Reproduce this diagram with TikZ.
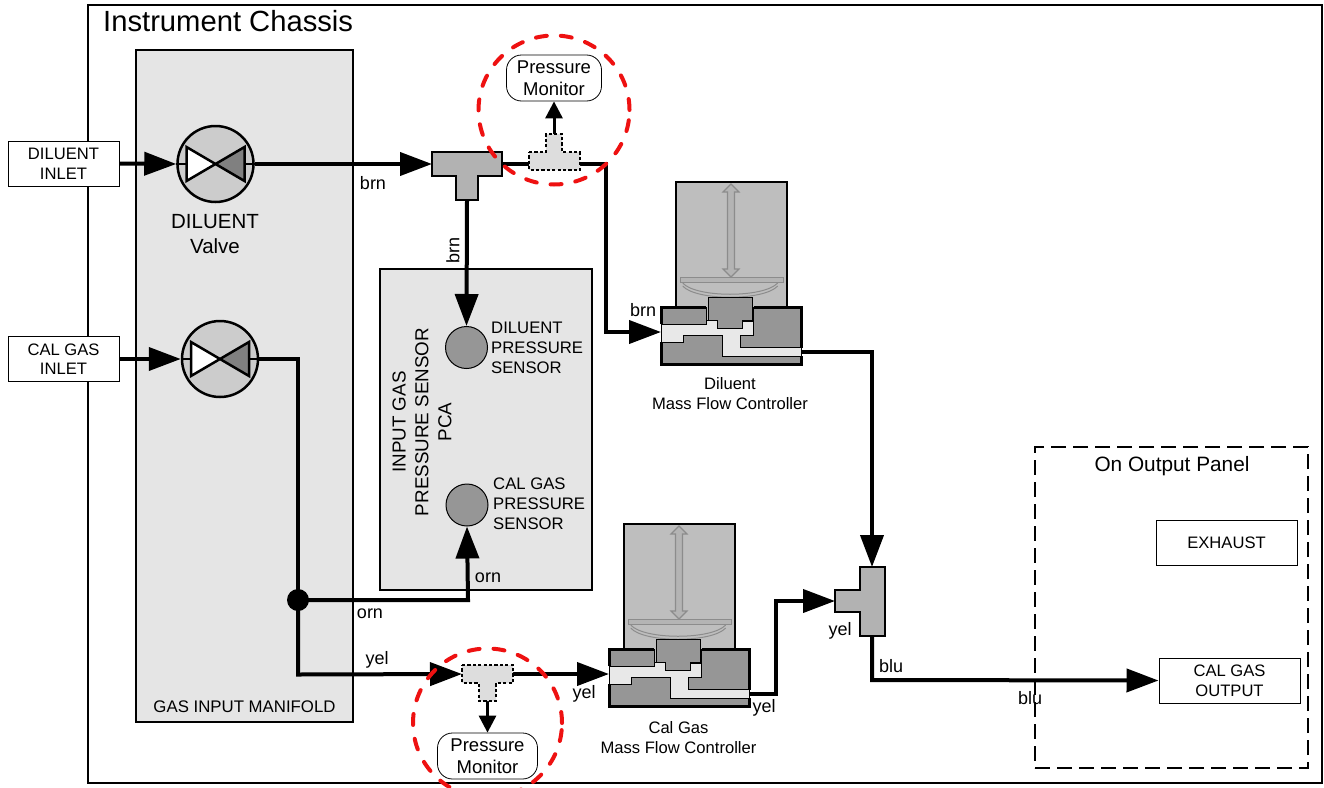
\documentclass[tikz,border=0pt]{standalone}
\usepackage{fontspec}
\setmainfont{Liberation Sans}
\usetikzlibrary{arrows.meta,shapes.geometric,calc}
\newcommand{\fs}[1]{\fontsize{#1}{#1}\selectfont}
\tikzset{
  panelbox/.style={draw=black,fill=panelgray,line width=2.2pt,minimum width=#1,inner sep=0pt},
  iobox/.style={draw=black,fill=white,line width=1pt,inner sep=0pt,align=center,font=\fs{16.6}},
  valvebody/.style={ellipse,draw=black,fill=valvegray,line width=2.5pt,minimum width=76pt,minimum height=76pt,inner sep=0pt},
  sensorbody/.style={circle,draw=black,fill=sensgray,line width=1pt,minimum size=42pt,inner sep=0pt},
  pipe/.style={line width=4pt,line join=miter},
  flowline/.style={pipe,-{Triangle[length=32pt,width=23pt]},shorten >=0pt},
  smallflow/.style={line width=3pt,-{Triangle[length=17pt,width=17pt]}},
  fitting/.style={draw=black,fill=fitgray,line width=2.4pt},
  dfitting/.style={draw=black,fill=dfitgray,line width=1.8pt,dash pattern=on 3.2pt off 2.2pt},
  monitorbox/.style={draw=black,fill=white,line width=.8pt,rounded corners=15pt,align=center,font=\fs{18.5},inner sep=0pt,minimum height=46pt,text width=95pt},
  redring/.style={ellipse,draw=ringred,line width=4pt,dash pattern=on 11pt off 14pt,line cap=round,inner sep=0pt},
  lbl/.style={font=\fs{18},inner sep=0pt},
  senstext/.style={font=\fs{16.7},inner sep=0pt,align=left,anchor=north west},
  captext/.style={font=\fs{16.6},inner sep=0pt,align=center},
  mfcpic/.pic={
    \draw[draw=black,fill=topgray,line width=2.6pt] (15,0) rectangle (126,-125);
    \draw[draw=arrgray,fill=lightarr,line width=1.2pt] (70,-123) -- (78,-115) -- (73.5,-115) -- (73.5,-38) -- (78,-38) -- (70,-30) -- (62,-38) -- (66.5,-38) -- (66.5,-115) -- (62,-115) -- cycle;
    \draw[draw=arrgray,fill=lightarr,line width=1pt] (19,-29.3) rectangle (122,-25);
    \draw[draw=arrgray,line width=1pt] (21.7,-24) .. controls (35,-9) and (103,-9) .. (116.7,-24);
    \draw[draw=arrgray,line width=1pt] (21.7,-21) .. controls (35,-6) and (103,-6) .. (116.7,-21);
    \fill[basegray] (0,0) rectangle (140,57);
    \fill[topgray] (45,-1.5) rectangle (92.7,15);
    \draw[draw=black,fill=chan,line width=.9pt] (0,17) -- (45,17) -- (45,13.5) -- (56.7,13.5) -- (56.7,21.3) -- (81,21.3) -- (81,14) -- (92.7,14) -- (92.7,28) -- (79.3,28) -- (79.3,40.7) -- (140,40.7) -- (140,49.3) -- (61,49.3) -- (61,28.7) -- (22.7,28.7) -- (22.7,35) -- (0,35) -- cycle;
    \draw[black,line width=3pt,line cap=square] (0,17) -- (0,0) -- (45,0);
    \draw[black,line width=3pt,line cap=square] (92.7,0) -- (140,0) -- (140,40.7);
    \draw[black,line width=3pt,line cap=square] (0,35) -- (0,57) -- (140,57) -- (140,49.3);
    \draw[black,line width=1pt] (45,0) -- (45,17);
    \draw[black,line width=1pt] (92.7,0) -- (92.7,14);
    \draw[draw=black,fill=basegray,line width=1pt] (47,-9.7) -- (91,-9.7) -- (91,13) -- (81,13) -- (81,21.3) -- (56.7,21.3) -- (56.7,13) -- (47,13) -- cycle;
    \coordinate (-in) at (0,25);
    \coordinate (-out) at (140,45);
  }
}
\definecolor{panelgray}{HTML}{E5E5E5}
\definecolor{valvegray}{HTML}{CCCCCC}
\definecolor{sensgray}{HTML}{969696}
\definecolor{fitgray}{HTML}{B2B2B2}
\definecolor{dfitgray}{HTML}{DDDDDD}
\definecolor{ringred}{HTML}{EE1111}
\definecolor{topgray}{HTML}{BEBEBE}
\definecolor{basegray}{HTML}{969696}
\definecolor{chan}{HTML}{E8E8E8}
\definecolor{arrgray}{HTML}{8C8C8C}
\definecolor{lightarr}{HTML}{B4B4B4}
\definecolor{valvedark}{HTML}{808080}
\begin{document}
\begin{tikzpicture}[x=1pt,y=-1pt]
\clip (0,0) rectangle (1324,787);
\fill[white] (0,0) rectangle (1324,787);

\node[draw=black,line width=2.4pt,minimum width=1234pt,minimum height=778pt,inner sep=0pt] (chassis) at (705,394) {};
\node[anchor=west,font=\fs{29.2},inner sep=0pt] (chassistitle) at (103,21) {Instrument Chassis};
\node[panelbox=217pt,minimum height=672pt] (manifold) at (244.5,386) {};
\node[panelbox=212pt,minimum height=321pt] (pca) at (486,429.5) {};
\node[draw=black,line width=2.2pt,dash pattern=on 15pt off 7pt,minimum width=273pt,minimum height=321pt,inner sep=0pt] (outpanel) at (1171.5,607.5) {};

\node[iobox,minimum width=111pt,minimum height=45pt] (dilin) at (63.5,163.5) {DILUENT\\[3pt]INLET};
\node[iobox,minimum width=111pt,minimum height=45pt] (calin) at (63.5,359) {CAL GAS\\[3pt]INLET};
\node[iobox,minimum width=141pt,minimum height=45pt] (exhaust) at (1226.5,543) {EXHAUST};
\node[iobox,minimum width=141pt,minimum height=45pt] (calout) at (1229.5,680.5) {CAL GAS\\[3pt]OUTPUT};

\node[valvebody] (v1) at (215.5,164) {};
\node[valvebody] (v2) at (220,359) {};
\foreach \v/\cx/\cy in {v1/215.5/164,v2/220/359}{
  \draw[black,line width=2.5pt,fill=white] (\cx-29,\cy-17) -- (\cx,\cy) -- (\cx-29,\cy+17) -- cycle;
  \draw[black,line width=2.5pt,fill=valvedark] (\cx+29,\cy-17) -- (\cx,\cy) -- (\cx+29,\cy+17) -- cycle;
  \draw[black,line width=2.5pt] (\v.west) -- (\cx-29,\cy);
  \draw[black,line width=2.5pt] (\v.east) -- (\cx+29,\cy);
}

\coordinate (t1w) at (432,164); \coordinate (t1e) at (502,164); \coordinate (t1s) at (467,200);
\draw[fitting] (432,152) -- (502,152) -- (502,176) -- (478,176) -- (478,200) -- (456,200) -- (456,176) -- (432,176) -- cycle;
\coordinate (t2n) at (872,567); \coordinate (t2w) at (835,601); \coordinate (t2s) at (872,636);
\draw[fitting] (860,567) -- (885,567) -- (885,636) -- (860,636) -- (860,612) -- (835,612) -- (835,590) -- (860,590) -- cycle;

\node[monitorbox] (pm1) at (554,78) {Pressure\\[4pt]Monitor};
\node[monitorbox,text width=100pt] (pm2) at (487.5,756) {Pressure\\[4pt]Monitor};

\pic (m1) at (661,307) {mfcpic};
\pic (m2) at (609,649) {mfcpic};

\node[sensorbody] (s1) at (466.5,347.5) {};
\node[sensorbody] (s2) at (467,505) {};
\node[circle,fill=black,minimum size=22pt,inner sep=0pt] (jn) at (298,600) {};

\coordinate (d1w) at (529,164); \coordinate (d1e) at (580,164); \coordinate (d1n) at (554,134);
\coordinate (d2w) at (462,674); \coordinate (d2e) at (513,674); \coordinate (d2s) at (487.5,701);

\draw[flowline] (dilin.east) -- (v1.west);
\draw[flowline] (calin.east) -- (v2.west);
\draw[flowline] (v1.east) -- (t1w);
\draw[pipe] (v2.east) -- (298,359) -- (jn.center);
\draw[flowline] (jn.center) -- (298,674.5) -- (d2w);
\draw[flowline] (jn.center) -- (468,600) -- (s2.south);
\draw[flowline] (t1s) -- (s1.north);
\draw[pipe] (t1e) -- (d1w);
\draw[flowline] (d1e) -- (606,164) -- (606,332) -- (m1-in);
\draw[flowline] (d2e) -- (m2-in);
\draw[flowline] (m1-out) -- (872,352) -- (t2n);
\draw[flowline] (m2-out) -- (776,694) -- (776,601) -- (t2w);
\draw[flowline] (t2s) -- (872,680) -- (calout.west);
\draw[smallflow] (d1n) -- (pm1.south);
\draw[smallflow] (d2s) -- (pm2.north);

\draw[dfitting] (529,152) -- (546,152) -- (546,134) -- (562,134) -- (562,152) -- (580,152) -- (580,170) -- (529,170) -- cycle;
\draw[dfitting] (462,665) -- (513,665) -- (513,683) -- (496,683) -- (496,701) -- (479,701) -- (479,683) -- (462,683) -- cycle;

\node[redring,minimum width=151pt,minimum height=149pt] (ring1) at (554,110) {};
\node[redring,minimum width=149pt,minimum height=149pt] (ring2) at (487.5,723) {};

\node[font=\fs{20.5},align=center,inner sep=0pt] (vlabel) at (215,234) {DILUENT\\[4pt]Valve};
\node[lbl] (brn1) at (373,183) {brn};
\node[lbl,rotate=90] (brn2) at (453,250) {brn};
\node[lbl] (brn3) at (643,310) {brn};
\node[lbl] (orn1) at (488,578) {orn};
\node[lbl] (orn2) at (370,614) {orn};
\node[lbl] (yel1) at (377,660) {yel};
\node[lbl] (yel2) at (584,694) {yel};
\node[lbl] (yel3) at (764,708) {yel};
\node[lbl] (yel4) at (840,631) {yel};
\node[lbl] (blu1) at (891,666) {blu};
\node[lbl] (blu2) at (1030,698) {blu};
\node[senstext] (s1l) at (491,322) {DILUENT\\[3.3pt]PRESSURE\\[3.3pt]SENSOR};
\node[senstext] (s2l) at (493,478) {CAL GAS\\[3.3pt]PRESSURE\\[3.3pt]SENSOR};
\node[font=\fs{18.8},align=center,rotate=90,inner sep=0pt] (pcal) at (422,422) {INPUT GAS\\[4pt]PRESSURE SENSOR\\[4pt]PCA};
\node[font=\fs{16.8},inner sep=0pt] (manl) at (244.5,707) {GAS INPUT MANIFOLD};
\node[captext] (m1l) at (730,394) {Diluent\\[3.5pt]Mass Flow Controller};
\node[captext] (m2l) at (678.5,738) {Cal Gas\\[3.5pt]Mass Flow Controller};
\node[font=\fs{20.8},inner sep=0pt] (opl) at (1172,466) {On Output Panel};
\end{tikzpicture}
\end{document}
